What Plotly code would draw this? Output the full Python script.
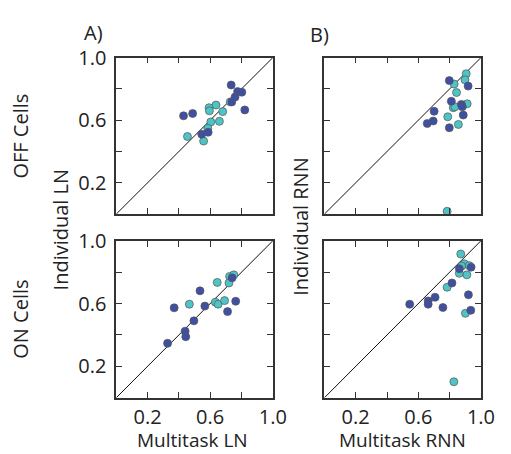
import plotly.graph_objects as go

# ---------------- data ----------------
tick_vals = [0.2, 0.4, 0.6, 0.8, 1.0]
tick_text = ["0.2", "", "0.6", "", "1.0"]

# Panel A, OFF cells (Multitask LN vs Individual LN)
a_off_dark_x = [0.734, 0.775, 0.802, 0.759, 0.738, 0.821, 0.430, 0.488, 0.587, 0.546]
a_off_dark_y = [0.825, 0.783, 0.779, 0.748, 0.717, 0.666, 0.628, 0.643, 0.523, 0.511]
a_off_cyan_x = [0.728, 0.637, 0.593, 0.595, 0.680, 0.604, 0.659, 0.585, 0.455, 0.558]
a_off_cyan_y = [0.717, 0.697, 0.680, 0.660, 0.655, 0.589, 0.593, 0.548, 0.496, 0.467]

# Panel B, OFF cells (Multitask RNN vs Individual RNN)
b_off_dark_x = [0.798, 0.918, 0.811, 0.875, 0.881, 0.701, 0.695, 0.657, 0.887, 0.798]
b_off_dark_y = [0.853, 0.818, 0.721, 0.701, 0.686, 0.657, 0.595, 0.579, 0.633, 0.552]
b_off_cyan_x = [0.906, 0.898, 0.829, 0.844, 0.823, 0.834, 0.912, 0.788, 0.856, 0.784]
b_off_cyan_y = [0.897, 0.858, 0.831, 0.777, 0.680, 0.686, 0.705, 0.622, 0.573, 0.018]

# Panel A, ON cells
a_on_dark_x = [0.740, 0.535, 0.370, 0.566, 0.763, 0.711, 0.496, 0.440, 0.444, 0.328]
a_on_dark_y = [0.764, 0.681, 0.573, 0.584, 0.615, 0.549, 0.490, 0.424, 0.389, 0.347]
a_on_cyan_x = [0.724, 0.751, 0.720, 0.645, 0.467, 0.633, 0.651, 0.692]
a_on_cyan_y = [0.773, 0.783, 0.731, 0.735, 0.596, 0.609, 0.596, 0.619]

# Panel B, ON cells
b_on_dark_x = [0.862, 0.937, 0.815, 0.707, 0.663, 0.663, 0.545, 0.757, 0.920, 0.935]
b_on_dark_y = [0.822, 0.832, 0.731, 0.640, 0.617, 0.596, 0.596, 0.575, 0.656, 0.557]
b_on_cyan_x = [0.871, 0.893, 0.877, 0.862, 0.925, 0.910, 0.784, 0.901, 0.827]
b_on_cyan_y = [0.916, 0.854, 0.839, 0.793, 0.842, 0.783, 0.704, 0.538, 0.102]

DARK = "#3f50a2"
CYAN = "#4fc4c7"
FONT = "Open Sans"
FS = 20
TXT = "#222"

W, H = 511, 454
col_dom = [[119.5 / W, 280.5 / W], [333.5 / W, 494.5 / W]]
row_dom = [[1 - 206.5 / H, 1 - 45 / H], [1 - 396 / H, 1 - 234 / H]]

panels = [
    (a_off_dark_x, a_off_dark_y, a_off_cyan_x, a_off_cyan_y, 0, 0),
    (b_off_dark_x, b_off_dark_y, b_off_cyan_x, b_off_cyan_y, 0, 1),
    (a_on_dark_x, a_on_dark_y, a_on_cyan_x, a_on_cyan_y, 1, 0),
    (b_on_dark_x, b_on_dark_y, b_on_cyan_x, b_on_cyan_y, 1, 1),
]

fig = go.Figure()
layout = dict(
    width=W, height=H, autosize=False,
    margin=dict(l=0, r=0, t=0, b=0),
    paper_bgcolor="white", plot_bgcolor="white",
    showlegend=False,
    font=dict(family=FONT, size=FS, color=TXT),
)

for i, (dx, dy, cx, cy, r, c) in enumerate(panels):
    n = i + 1
    xa = "x" if n == 1 else f"x{n}"
    ya = "y" if n == 1 else f"y{n}"
    fig.add_trace(go.Scatter(x=[0, 1], y=[0, 1], mode="lines",
                             line=dict(color="#111", width=1),
                             xaxis=xa, yaxis=ya, hoverinfo="skip"))
    fig.add_trace(go.Scatter(x=cx, y=cy, mode="markers",
                             marker=dict(color=CYAN, size=8,
                                         line=dict(color="#555", width=0.7)),
                             xaxis=xa, yaxis=ya))
    fig.add_trace(go.Scatter(x=dx, y=dy, mode="markers",
                             marker=dict(color=DARK, size=8,
                                         line=dict(color="#555", width=0.7)),
                             xaxis=xa, yaxis=ya))
    common = dict(range=[0, 1], tickmode="array", tickvals=tick_vals,
                  ticktext=tick_text, ticks="inside", ticklen=6, tickwidth=1.3,
                  tickcolor="#333", showline=True, linecolor="#333",
                  linewidth=1.6, mirror="ticks", showgrid=False,
                  zeroline=False, fixedrange=True,
                  tickfont=dict(family=FONT, size=FS, color=TXT))
    xkey = "xaxis" if n == 1 else f"xaxis{n}"
    ykey = "yaxis" if n == 1 else f"yaxis{n}"
    layout[xkey] = dict(common, domain=col_dom[c], anchor=ya,
                        showticklabels=(r == 1), ticklabelstandoff=0)
    layout[ykey] = dict(common, domain=row_dom[r], anchor=xa,
                        showticklabels=(c == 0), ticklabelstandoff=4)

fig.update_layout(**layout)

def ann(text, px, py, angle=0, yanchor="middle", size=FS):
    fig.add_annotation(text=text, x=px / W, y=1 - py / H, xref="paper",
                       yref="paper", showarrow=False, textangle=angle,
                       xanchor="center", yanchor=yanchor, borderpad=0,
                       font=dict(family=FONT, size=size, color=TXT))

ann("A)", 96, 19)
ann("B)", 328, 21)
ann("OFF Cells", 21, 126, -90)
ann("ON Cells", 21, 315, -90)
ann("Individual LN", 62, 222, -90)
ann("Individual RNN", 309, 219, -90)
ann("Multitask LN", 198, 454, yanchor="bottom", size=19)
ann("Multitask RNN", 414, 454, yanchor="bottom", size=19)

fig.write_html(
    "out.html",
    config={"displayModeBar": False},
    post_script="document.body.style.margin='0';document.body.style.overflow='hidden';",
)
